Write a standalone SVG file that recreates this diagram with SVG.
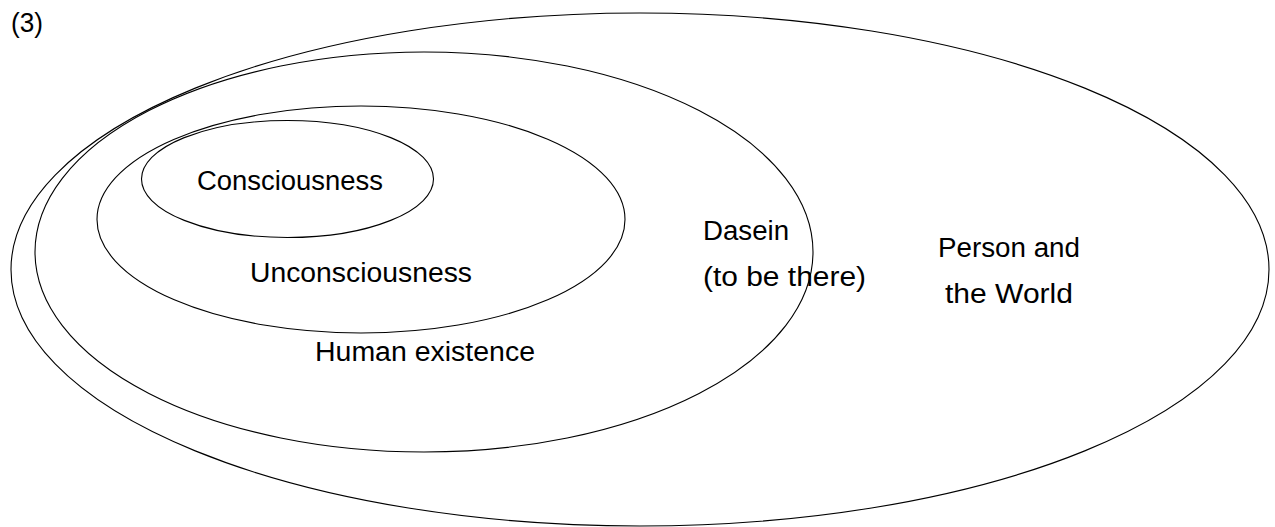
<svg xmlns="http://www.w3.org/2000/svg" width="1275" height="527" viewBox="0 0 1275 527">
  <style>
    .e { fill: none; stroke: #000; stroke-width: 1.1; }
    .t { font-family: "Liberation Sans", Arial, sans-serif; font-size: 27px; fill: #000; }
  </style>
  <rect width="1275" height="527" fill="#fff"/>
  <text class="t" x="11" y="32" textLength="32" lengthAdjust="spacingAndGlyphs">(3)</text>
  <g id="person-world">
    <ellipse class="e" cx="640" cy="269.5" rx="629" ry="256.5"/>
    <text class="t" x="938" y="257" textLength="142" lengthAdjust="spacingAndGlyphs">Person and</text>
    <text class="t" x="945" y="303" textLength="128" lengthAdjust="spacingAndGlyphs">the World</text>
  </g>
  <g id="dasein">
    <ellipse class="e" cx="424" cy="252" rx="389" ry="200"/>
    <text class="t" x="703" y="240" textLength="86" lengthAdjust="spacingAndGlyphs">Dasein</text>
    <text class="t" x="703" y="286" textLength="163" lengthAdjust="spacingAndGlyphs">(to be there)</text>
  </g>
  <g id="human-existence">
    <ellipse class="e" cx="361" cy="219.5" rx="264" ry="113.5"/>
    <text class="t" x="315" y="361" textLength="220" lengthAdjust="spacingAndGlyphs">Human existence</text>
  </g>
  <g id="unconsciousness">
    <text class="t" x="250" y="282" textLength="222" lengthAdjust="spacingAndGlyphs">Unconsciousness</text>
  </g>
  <g id="consciousness">
    <ellipse class="e" cx="287.5" cy="179" rx="146" ry="58.5"/>
    <text class="t" x="197" y="190" textLength="186" lengthAdjust="spacingAndGlyphs">Consciousness</text>
  </g>
  <g id="connectors"/>
</svg>
